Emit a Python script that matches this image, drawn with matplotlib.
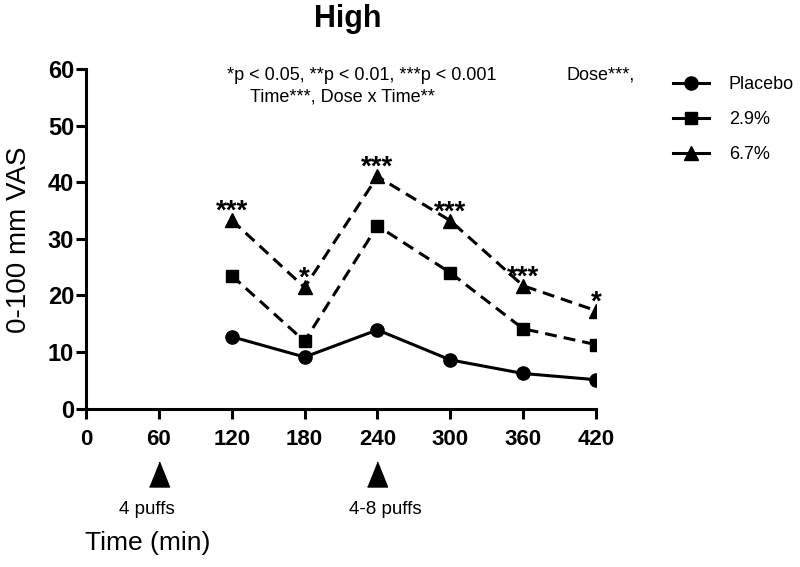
import matplotlib.pyplot as plt
from matplotlib.lines import Line2D

plt.rcParams['font.family'] = ['Liberation Sans', 'DejaVu Sans']

# data
times = [120, 180, 240, 300, 360, 420]
placebo = [12.7, 9.1, 13.9, 8.6, 6.2, 5.1]
dose_29 = [23.5, 11.9, 32.3, 24.0, 14.1, 11.3]
dose_67 = [33.3, 21.4, 41.0, 33.2, 21.7, 17.3]
stars_67 = ['***', '*', '***', '***', '***', '*']

x_ticks = [0, 60, 120, 180, 240, 300, 360, 420]
y_ticks = [0, 10, 20, 30, 40, 50, 60]

puff_times = [60, 240]
puff_labels = ['4 puffs', '4-8 puffs']
puff_label_dx = [-8.6, 5.8]   # points

fig = plt.figure(figsize=(8, 5.67), dpi=100)
ax = fig.add_axes([0.1075, 0.2794, 0.6375, 0.599])

lw = 2.2
ax.plot(times, placebo, color='black', lw=lw, marker='o', ms=9.5, label='Placebo')
ax.plot(times, dose_29, color='black', lw=lw, marker='s', ms=9,
        dashes=(3.9, 2.3), label='2.9%')
ax.plot(times, dose_67, color='black', lw=lw, marker='^', ms=10.5,
        dashes=(3.9, 2.3), label='6.7%')

# significance stars above the 6.7% points
for t, v, s in zip(times, dose_67, stars_67):
    ax.annotate(s, xy=(t, v), xytext=(0, 1), textcoords='offset points',
                ha='center', va='baseline', fontsize=20, fontweight='bold')

ax.set_xlim(0, 420)
ax.set_ylim(0, 60)
ax.set_xticks(x_ticks)
ax.set_yticks(y_ticks)
ax.spines['top'].set_visible(False)
ax.spines['right'].set_visible(False)
ax.spines['left'].set_linewidth(lw)
ax.spines['bottom'].set_linewidth(lw)
ax.tick_params(axis='both', direction='out', length=7, width=lw)
ax.tick_params(axis='x', pad=8, labelsize=16)
ax.tick_params(axis='y', pad=1.5, labelsize=17)
for lab in ax.get_xticklabels() + ax.get_yticklabels():
    lab.set_fontweight('bold')

# dosing arrows below the axis
tri = [(-0.8, -1), (0.8, -1), (0, 1)]
for t, lab, dx in zip(puff_times, puff_labels, puff_label_dx):
    ax.plot([t], [-0.194], transform=ax.get_xaxis_transform(), clip_on=False,
            marker=tri, ms=18, color='black', ls='none')
    ax.annotate(lab, xy=(t, -0.2986), xycoords=('data', 'axes fraction'),
                xytext=(dx, 0), textcoords='offset points',
                ha='center', va='center', fontsize=13.5, annotation_clip=False)

fig.text(0.435, 0.966, 'High', ha='center', va='center', fontsize=22,
         fontweight='bold')
fig.text(0.024, 1 - 240 / 567, '0-100 mm VAS', rotation=90, ha='center',
         va='center', fontsize=20)
fig.text(85 / 800, 1 - 543 / 567, 'Time (min)', ha='left', va='center',
         fontsize=19)

fig.text(227 / 800, 1 - 75 / 567, '*p < 0.05, **p < 0.01, ***p < 0.001',
         ha='left', va='center', fontsize=13)
fig.text(567 / 800, 1 - 75 / 567, 'Dose***,', ha='left', va='center',
         fontsize=13)
fig.text(250 / 800, 1 - 97 / 567, 'Time***, Dose x Time**', ha='left',
         va='center', fontsize=13)

handles = [
    Line2D([], [], color='black', lw=lw, marker='o', ms=9.5),
    Line2D([], [], color='black', lw=lw, marker='s', ms=9),
    Line2D([], [], color='black', lw=lw, marker='^', ms=10.5),
]
fig.legend(handles, ['Placebo', '2.9%', '6.7%'], loc='upper left',
           bbox_to_anchor=(673 / 800, 1 - 76 / 567), frameon=False,
           fontsize=13, handlelength=2.0, handletextpad=1.1,
           labelspacing=1.0, borderpad=0, borderaxespad=0)

fig.savefig('out.png', dpi=100)
